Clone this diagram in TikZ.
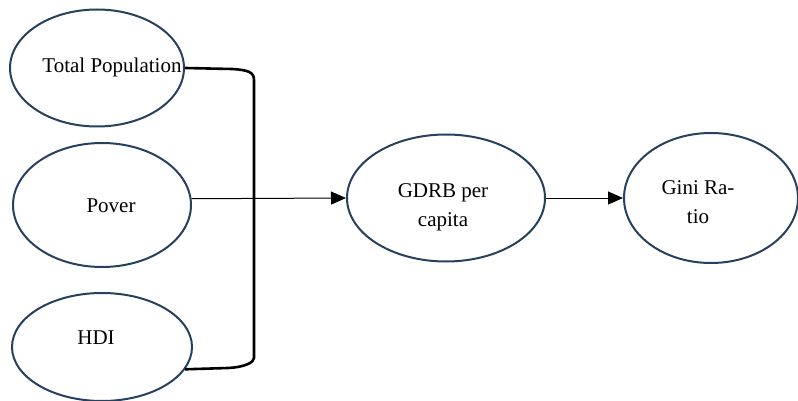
\documentclass[tikz,border=0pt]{standalone}
\usepackage{fontspec}
\setmainfont{Liberation Serif}
\usetikzlibrary{shapes.geometric,arrows.meta}
\definecolor{rim}{RGB}{38,64,94}
\tikzset{
  oval/.style={ellipse,draw=rim,line width=2pt,inner sep=0pt},
  lbl/.style={font=\rmfamily\fontsize{21}{29}\selectfont,inner sep=0pt,align=center,text=black},
  bracketline/.style={draw=black,line width=2.6pt},
  link/.style={draw=black,line width=1pt,-{Triangle[length=15pt,width=13pt]}}
}
\begin{document}
\begin{tikzpicture}[x=1pt,y=-1pt]
\useasboundingbox (0,0) rectangle (798,401);

% input variables
\node[oval,minimum width=174pt,minimum height=117pt] (tp) at (97,68) {};
\node[oval,minimum width=178pt,minimum height=124pt] (pv) at (102,205) {};
\node[oval,minimum width=180pt,minimum height=108pt] (hdi) at (102,347) {};

% intermediate and outcome
\node[oval,minimum width=198pt,minimum height=127pt] (gdrb) at (446,198) {};
\node[oval,minimum width=174pt,minimum height=130pt] (gini) at (711,198) {};

% texts
\node[lbl] (tpT) at (112,67) {Total Population};
\node[lbl] (pvT) at (111,206) {Pover};
\node[lbl] (hdiT) at (96,338) {HDI};
\node[lbl] (gdrbT) at (443,207) {GDRB per\\capita};
\node[lbl] (giniT) at (698,202) {Gini Ra-\\tio};

% bracket joining the three inputs
\coordinate (bt) at (254,80);
\coordinate (bb) at (254,358);
\draw[bracketline] (tp.east) -- (232,69) .. controls (248,70) and (254,72) .. (bt)
  -- (bb) .. controls (254,362) and (246,367) .. (228,368) -- (hdi.-15.5);

% arrows
\draw[link] (pv.4.5) -- (gdrb.west);
\draw[link] (gdrb.east) -- (gini.west);
\end{tikzpicture}
\end{document}
